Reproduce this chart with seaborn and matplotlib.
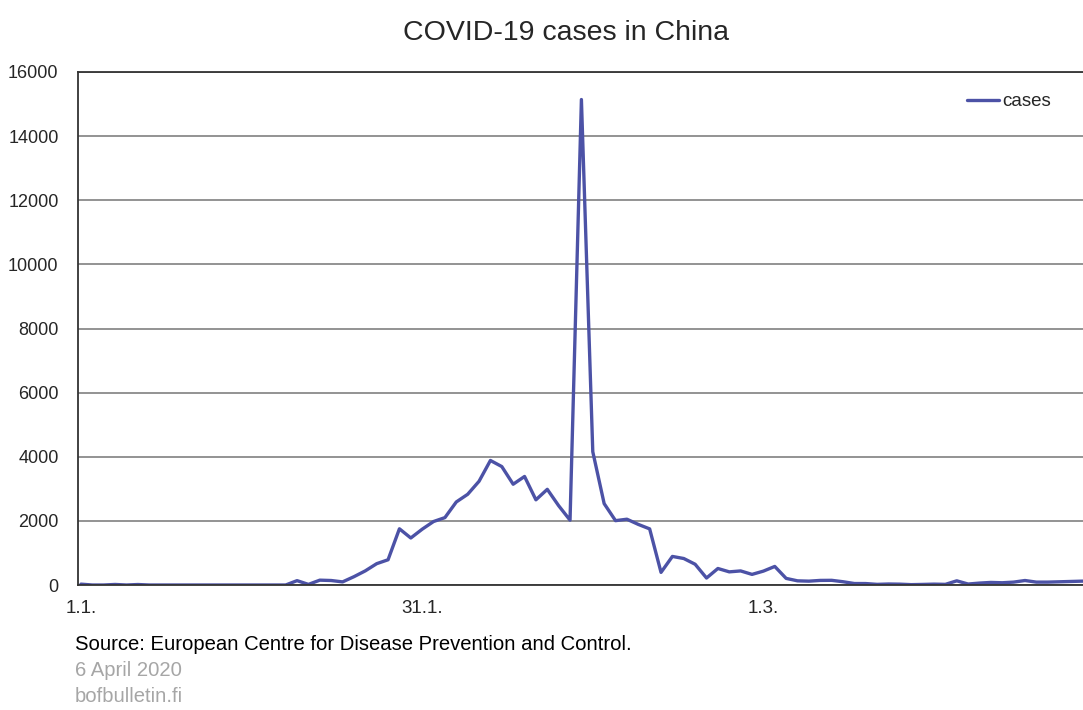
import numpy as np
import pandas as pd
import matplotlib
matplotlib.use('Agg')
import matplotlib.pyplot as plt
import seaborn as sns

# =========================
# DATA (daily new cases)
# =========================
cases = [27, 0, 0, 17, 0, 15, 0, 0, 0, 0,
         0, 0, 0, 0, 0, 0, 0, 0, 0, 136,
         19, 151, 140, 97, 259, 441, 665, 787, 1753, 1466,
         1740, 1980, 2102, 2590, 2829, 3235, 3884, 3694, 3143, 3385,
         2657, 2984, 2473, 2022, 15141, 4156, 2538, 2007, 2052, 1890,
         1750, 394, 891, 826, 647, 218, 515, 410, 439, 331,
         433, 579, 206, 130, 120, 143, 146, 102, 46, 45,
         20, 31, 26, 11, 18, 27, 20, 130, 30, 60,
         80, 70, 90, 140, 90, 90, 100, 110, 120, 120]
tick_pos = [0, 30, 60]
tick_labels = ['1.1.', '31.1.', '1.3.']
y_ticks = [0, 2000, 4000, 6000, 8000, 10000, 12000, 14000, 16000]

df = pd.DataFrame({'day': np.arange(len(cases)), 'cases': cases})

# =========================
# STYLE
# =========================
sns.set_style('white')
plt.rcParams['font.family'] = ['Liberation Sans', 'DejaVu Sans']

fig = plt.figure(figsize=(10.83, 7.10), dpi=100)
ax = fig.add_axes([78 / 1083, 1 - 585 / 710, 1 - 78 / 1083, (585 - 72) / 710])

sns.lineplot(data=df, x='day', y='cases', ax=ax, color='#4c52a6',
             linewidth=2.4, label='cases')

ax.set_xlim(-0.26, 88.1)
ax.set_ylim(0, 16000)
ax.set_yticks(y_ticks)
ax.set_yticklabels([str(v) for v in y_ticks], fontsize=13)
ax.set_xticks(tick_pos)
ax.set_xticklabels(tick_labels, fontsize=13.5)
ax.tick_params(axis='y', length=0, pad=14)
ax.tick_params(axis='x', length=0, pad=11)
ax.set_xlabel('')
ax.set_ylabel('')

ax.yaxis.grid(True, color='#8a8a8a', linewidth=1.3)
ax.set_axisbelow(True)
for side in ['left', 'bottom', 'top']:
    ax.spines[side].set_color('#333333')
    ax.spines[side].set_linewidth(1.3)
ax.spines['right'].set_visible(False)

leg = ax.legend(loc='upper right', frameon=False, fontsize=13.5,
                handlelength=1.75, handletextpad=0.15,
                bbox_to_anchor=(0.985, 0.992))

fig.text(566 / 1083, 1 - 33 / 710, 'COVID-19 cases in China',
         ha='center', va='center', fontsize=20.5)
fig.text(75 / 1083, 1 - 645 / 710,
         'Source: European Centre for Disease Prevention and Control.',
         ha='left', va='center', fontsize=14.6, color='black')
fig.text(75 / 1083, 1 - 671 / 710, '6 April 2020',
         ha='left', va='center', fontsize=14.6, color='#a6a6a6')
fig.text(75 / 1083, 1 - 697 / 710, 'bofbulletin.fi',
         ha='left', va='center', fontsize=14.6, color='#a6a6a6')

fig.savefig('out.png', dpi=100)
